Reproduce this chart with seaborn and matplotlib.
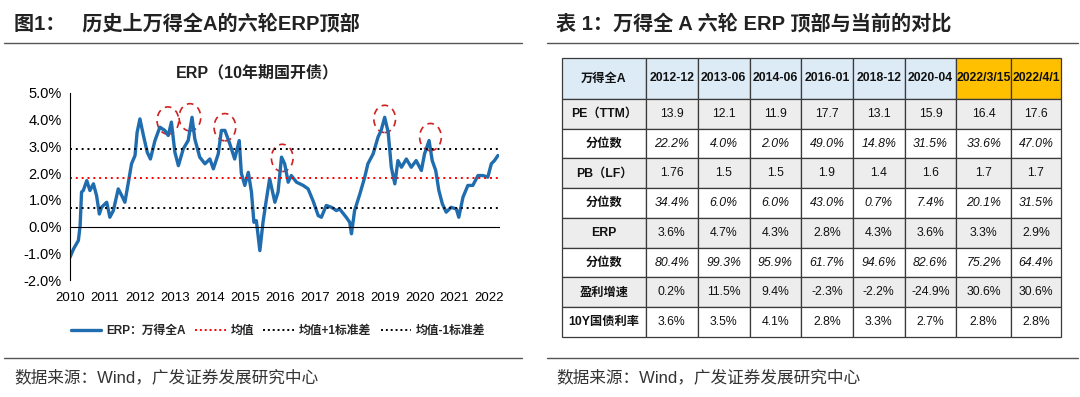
import pandas as pd
import matplotlib.pyplot as plt
import seaborn as sns
import numpy as np
from matplotlib.lines import Line2D
from matplotlib.patches import Ellipse

# ERP series (decimal year, %)
erp_year = [2010.00, 2010.10, 2010.24, 2010.29, 2010.33, 2010.38, 2010.48, 2010.57, 2010.67, 2010.76,
            2010.84, 2010.90, 2011.05, 2011.14, 2011.24, 2011.38, 2011.48, 2011.57, 2011.67, 2011.76,
            2011.86, 2011.92, 2012.00, 2012.10, 2012.21, 2012.30, 2012.43, 2012.57, 2012.71, 2012.81,
            2012.90, 2013.00, 2013.10, 2013.24, 2013.38, 2013.49, 2013.57, 2013.71, 2013.86, 2014.00,
            2014.10, 2014.24, 2014.33, 2014.43, 2014.57, 2014.71, 2014.84, 2014.90, 2015.00, 2015.10,
            2015.19, 2015.26, 2015.33, 2015.43, 2015.52, 2015.62, 2015.71, 2015.86, 2015.95, 2016.05,
            2016.14, 2016.24, 2016.33, 2016.48, 2016.67, 2016.81, 2016.95, 2017.10, 2017.19, 2017.33,
            2017.48, 2017.62, 2017.71, 2017.90, 2018.00, 2018.05, 2018.14, 2018.29, 2018.43, 2018.52,
            2018.67, 2018.81, 2018.90, 2019.00, 2019.10, 2019.19, 2019.29, 2019.38, 2019.48, 2019.62,
            2019.76, 2019.90, 2020.05, 2020.14, 2020.27, 2020.36, 2020.46, 2020.55, 2020.65, 2020.76,
            2020.90, 2021.05, 2021.12, 2021.24, 2021.38, 2021.52, 2021.67, 2021.81, 2021.95, 2022.05,
            2022.14, 2022.24]
erp_value = [-1.15, -0.84, -0.52, 0.04, 1.29, 1.35, 1.72, 1.35, 1.60, 1.16,
             0.47, 0.72, 0.91, 0.35, 0.60, 1.41, 1.16, 0.91, 1.66, 2.35,
             2.66, 3.53, 4.03, 3.41, 2.78, 2.53, 3.22, 3.72, 3.60, 3.41,
             3.91, 2.78, 2.28, 2.91, 3.22, 4.09, 3.28, 2.60, 2.35, 2.53,
             2.16, 2.72, 3.60, 3.60, 3.10, 2.53, 3.22, 2.00, 1.54, 2.03,
             1.29, 0.16, 0.22, -0.90, 0.16, 1.04, 1.79, 0.91, 1.29, 2.60,
             2.35, 1.66, 1.91, 1.66, 1.54, 1.41, 0.97, 0.41, 0.35, 0.79,
             0.72, 0.60, 0.66, 0.35, 0.16, -0.27, 0.60, 1.22, 1.85, 2.35,
             2.72, 3.35, 3.60, 4.09, 3.53, 2.22, 1.60, 2.47, 2.22, 2.53,
             2.22, 2.47, 2.10, 2.72, 3.22, 2.47, 2.10, 1.35, 0.85, 0.54,
             0.72, 0.66, 0.35, 1.10, 1.54, 1.54, 1.91, 1.91, 1.85, 2.35,
             2.47, 2.66]
erp_mean = 1.81
erp_plus_std = 2.90
erp_minus_std = 0.70

# six ERP tops marked with circles
peak_year = [2012.80, 2013.43, 2014.43, 2016.07, 2019.00, 2020.31]
peak_value = [3.97, 4.09, 3.72, 2.57, 4.03, 3.35]

year_ticks = list(range(2010, 2023))
pct_ticks = [-2, -1, 0, 1, 2, 3, 4, 5]

# table data
table_corner = '万得全A'
table_dates = ['2012-12', '2013-06', '2014-06', '2016-01', '2018-12', '2020-04', '2022/3/15', '2022/4/1']
row_labels = ['PE（TTM）', '分位数', 'PB（LF）', '分位数', 'ERP', '分位数', '盈利增速', '10Y国债利率']
pe = [13.9, 12.1, 11.9, 17.7, 13.1, 15.9, 16.4, 17.6]
pe_pct = [22.2, 4.0, 2.0, 49.0, 14.8, 31.5, 33.6, 47.0]
pb = [1.76, 1.5, 1.5, 1.9, 1.4, 1.6, 1.7, 1.7]
pb_pct = [34.4, 6.0, 6.0, 43.0, 0.7, 7.4, 20.1, 31.5]
erp_top = [3.6, 4.7, 4.3, 2.8, 4.3, 3.6, 3.3, 2.9]
erp_pct = [80.4, 99.3, 95.9, 61.7, 94.6, 82.6, 75.2, 64.4]
profit_growth = [0.2, 11.5, 9.4, -2.3, -2.2, -24.9, 30.6, 30.6]
bond_10y = [3.6, 3.5, 4.1, 2.8, 3.3, 2.7, 2.8, 2.8]

sns.set_style('white')
plt.rcParams['font.family'] = ['Liberation Sans', 'Noto Sans CJK SC', 'DejaVu Sans']

W, H = 1080, 397
fig = plt.figure(figsize=(W / 100, H / 100), dpi=100)

def fx(px):
    return px / W

def fy(py):
    return 1 - py / H

txt = '#222222'
blue = '#1F6CAE'

# headers and rules
fig.text(fx(14), fy(23), '图1：   历史上万得全A的六轮ERP顶部', fontsize=14.5, fontweight='bold', color=txt, va='center')
fig.text(fx(556), fy(23), '表 1：万得全 A 六轮 ERP 顶部与当前的对比', fontsize=14.5, fontweight='bold', color=txt, va='center')
for x0, x1 in [(4, 522), (547, 1078)]:
    fig.add_artist(Line2D([fx(x0), fx(x1)], [fy(43), fy(43)], color='#555555', lw=1))
    fig.add_artist(Line2D([fx(x0), fx(x1)], [fy(358), fy(358)], color='#555555', lw=1))
fig.text(fx(14), fy(377), '数据来源：Wind，广发证券发展研究中心', fontsize=12, color='#333333', va='center')
fig.text(fx(556), fy(377), '数据来源：Wind，广发证券发展研究中心', fontsize=12, color='#333333', va='center')

# ---- left: ERP line chart ----
ax = fig.add_axes([fx(70), fy(280), fx(499) - fx(70), fy(93) - fy(280)])
df = pd.DataFrame({'year': erp_year, 'erp': erp_value})
sns.lineplot(data=df, x='year', y='erp', ax=ax, color=blue, lw=2.4)
ax.axhline(erp_plus_std, color='black', ls=(0, (1, 2)), lw=1.4)
ax.axhline(erp_mean, color='red', ls=(0, (1, 2)), lw=1.4)
ax.axhline(erp_minus_std, color='black', ls=(0, (1, 2)), lw=1.4)
for px_, pv in zip(peak_year, peak_value):
    ax.add_patch(Ellipse((px_, pv), width=0.62, height=1.02, fill=False,
                         edgecolor='#D02020', ls=(0, (4, 3)), lw=1.2))

ax.set_xlim(2010, 2022.27)
ax.set_ylim(-2, 5)
ax.set_xticks(year_ticks)
ax.set_xticklabels([str(y) for y in year_ticks])
ax.set_yticks(pct_ticks)
ax.set_yticklabels([f'{v:.1f}%' for v in pct_ticks])
ax.set_xlabel('')
ax.set_ylabel('')
ax.spines['top'].set_visible(False)
ax.spines['right'].set_visible(False)
ax.spines['bottom'].set_position(('data', 0))
ax.spines['bottom'].set_color('black')
ax.spines['left'].set_color('black')
ax.tick_params(axis='x', direction='out', length=4, width=1, pad=43, labelsize=9.5, colors='black')
ax.tick_params(axis='y', direction='out', length=4, width=1, pad=2, labelsize=10.5, colors='black')
fig.text(fx(257), fy(73), 'ERP（10年期国开债）', fontsize=11.5, fontweight='bold', color=txt, ha='center', va='center')

handles = [Line2D([], [], color=blue, lw=2.4),
           Line2D([], [], color='red', ls=(0, (1, 1.5)), lw=1.4),
           Line2D([], [], color='black', ls=(0, (1, 1.5)), lw=1.4),
           Line2D([], [], color='black', ls=(0, (1, 1.5)), lw=1.4)]
labels = ['ERP：万得全A', '均值', '均值+1标准差', '均值-1标准差']
leg = fig.legend(handles, labels, loc='center', bbox_to_anchor=(fx(278), fy(331)), ncol=4,
                 frameon=False, fontsize=8.5, handlelength=2.6, handletextpad=0.4, columnspacing=0.8)
for t in leg.get_texts():
    t.set_fontweight('bold')

# ---- right: comparison table ----
tax = fig.add_axes([fx(562), fy(337), fx(1061) - fx(562), fy(58) - fy(337)])
tax.axis('off')

def fmt(vals, pct):
    return [f'{v:.1f}%' for v in vals] if pct else [str(v) for v in vals]

rows = [fmt(pe, False), fmt(pe_pct, True), fmt(pb, False), fmt(pb_pct, True),
        fmt(erp_top, True), fmt(erp_pct, True), fmt(profit_growth, True), fmt(bond_10y, True)]
cell_text = [[table_corner] + table_dates] + [[lab] + r for lab, r in zip(row_labels, rows)]
col_w = [84] + [51.7] * 6 + [54.5, 50]
tbl = tax.table(cellText=cell_text, colWidths=[w / sum(col_w) for w in col_w],
                bbox=[0, 0, 1, 1], cellLoc='center')
tbl.auto_set_font_size(False)
for (r, c), cell in tbl.get_celld().items():
    cell.set_edgecolor('#3a3a3a')
    cell.set_linewidth(0.9)
    cell.set_height(41 if r == 0 else 29.8)
    t = cell.get_text()
    t.set_fontsize(8.8)
    t.set_color('#111111')
    if r == 0:
        cell.set_facecolor('#FFC000' if c >= 7 else '#DDEBF7')
        t.set_fontweight('bold')
    else:
        cell.set_facecolor('#EDEDED' if r % 2 == 1 else '#FFFFFF')
        if c == 0:
            t.set_fontweight('bold')
        elif r % 2 == 0 and r <= 6:
            t.set_fontstyle('italic')

fig.savefig('out.png', dpi=100)
